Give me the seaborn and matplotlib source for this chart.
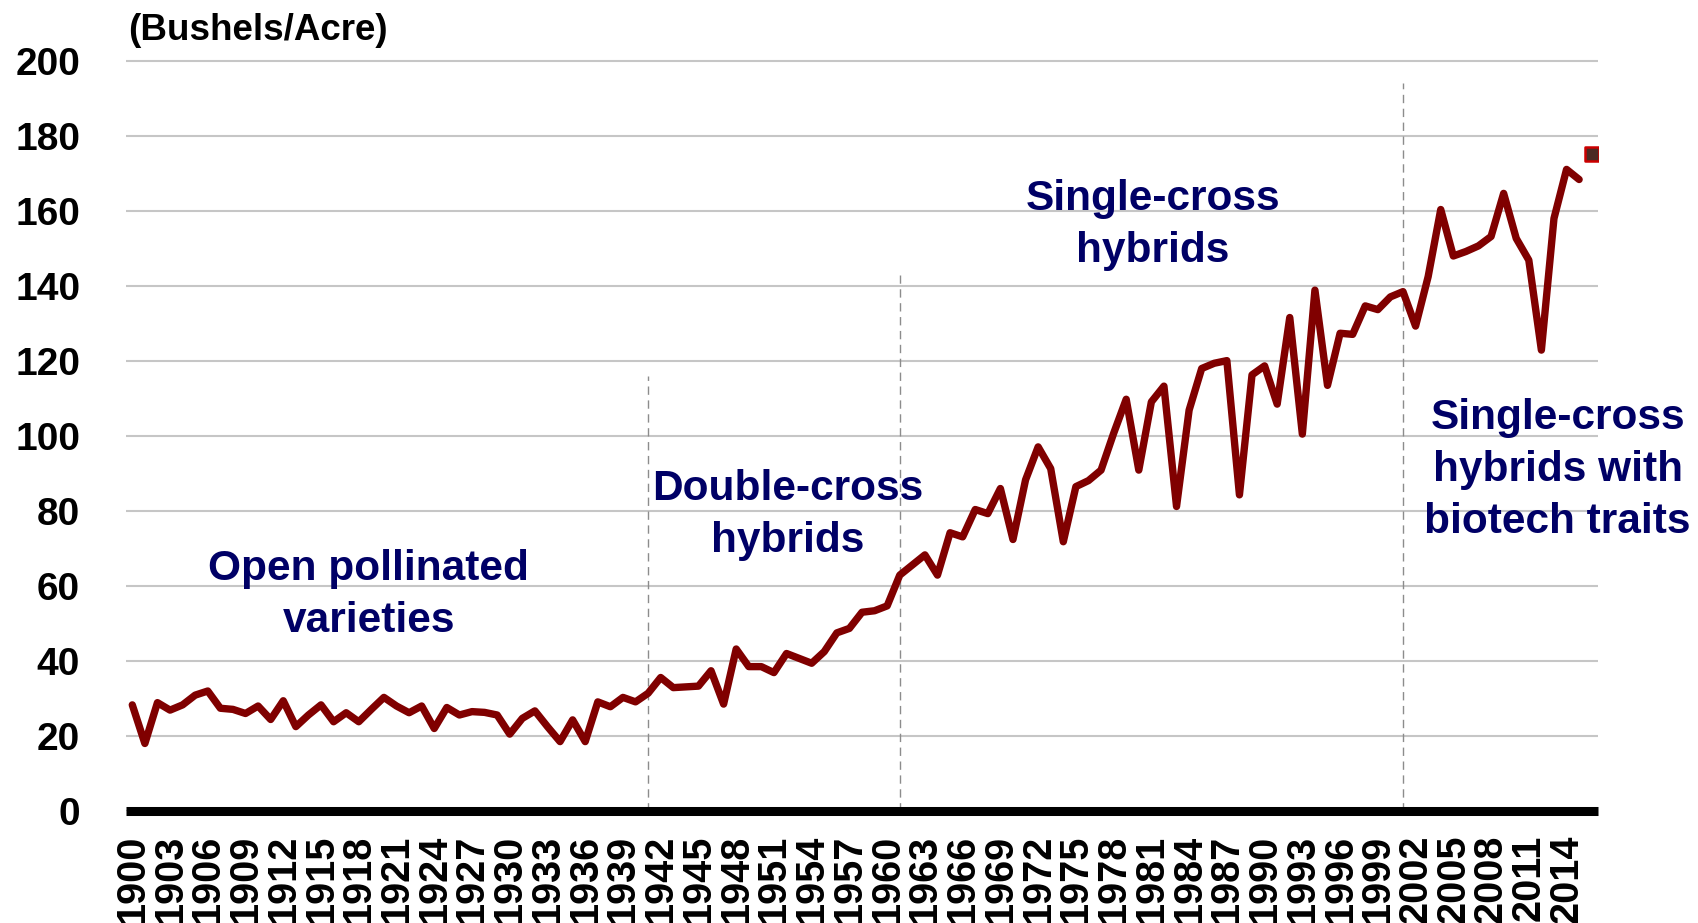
import numpy as np
import pandas as pd
import matplotlib
matplotlib.use("Agg")
from matplotlib import pyplot as plt
import seaborn as sns

# US corn yield, bushels per acre
years = list(range(1900, 2016))
yields = [
    28.3, 18.0, 28.9, 26.9, 28.3, 30.9, 32.0, 27.4, 27.1, 26.0,
    28.0, 24.4, 29.4, 22.5, 25.6, 28.3, 23.8, 26.2, 23.8, 27.1,
    30.3, 28.0, 26.2, 28.0, 22.0, 27.6, 25.6, 26.5, 26.3, 25.6,
    20.5, 24.7, 26.7, 22.5, 18.5, 24.3, 18.5, 29.1, 27.8, 30.3,
    29.1, 31.4, 35.6, 32.9, 33.1, 33.3, 37.4, 28.5, 43.2, 38.5,
    38.5, 36.9, 42.0, 40.7, 39.4, 42.5, 47.5, 48.7, 53.0, 53.4,
    54.7, 62.9, 65.6, 68.3, 62.9, 74.2, 73.1, 80.4, 79.3, 86.0,
    72.4, 88.3, 97.1, 91.3, 71.8, 86.5, 88.1, 90.9, 100.7, 109.8,
    90.9, 109.1, 113.3, 81.2, 106.9, 118.0, 119.4, 120.1, 84.3, 116.3,
    118.7, 108.5, 131.6, 100.5, 138.9, 113.5, 127.4, 127.1, 134.7, 133.7,
    137.1, 138.5, 129.3, 142.5, 160.4, 148.0, 149.2, 150.7, 153.2, 164.7,
    152.7, 146.9, 122.9, 158.0, 171.1, 168.4,
]
forecast_year = [2016]
forecast_yield = [175.1]

era_years = [1941, 1961, 2001]
era_tops = [116, 143, 194]
era_names = [
    "Open pollinated\nvarieties",
    "Double-cross\nhybrids",
    "Single-cross\nhybrids",
    "Single-cross\nhybrids with\nbiotech traits",
]

tick_years = list(range(1900, 2015, 3))
y_ticks = list(range(0, 201, 20))

df = pd.DataFrame({"year": years, "yield": yields})

sns.set_theme(style="white")
plt.rcParams["font.family"] = ["Liberation Sans", "DejaVu Sans"]

W, H = 1699, 923
fig = plt.figure(figsize=(W / 100, H / 100), dpi=100)
top_px = 811 - 201 * 3.75
ax = fig.add_axes([126 / W, 1 - 811 / H, (1598 - 126) / W, (811 - top_px) / H])

ax.yaxis.grid(True, color="#c6c6c6", linewidth=1.5)
ax.set_axisbelow(True)

ax.vlines(era_years, 0, era_tops, colors="#8c8c8c", linewidth=1.0,
          linestyles=(0, (6, 4)), zorder=1)

sns.lineplot(data=df, x="year", y="yield", color="#800000", linewidth=5.3,
             ax=ax, zorder=3)
sns.scatterplot(x=forecast_year, y=forecast_yield, marker="s", s=95,
                color="#4b2a24", edgecolor="#cc0000", linewidth=1.8,
                ax=ax, zorder=4)

ax.set_xlim(1899.5, 2016.5)
ax.set_ylim(0, 201)
ax.set_xticks(tick_years)
ax.set_xticklabels([str(t) for t in tick_years], rotation=90,
                   fontsize=28.5, fontweight="bold")
ax.set_yticks(y_ticks)
ax.set_yticklabels([str(t) for t in y_ticks], fontsize=28, fontweight="bold")
ax.tick_params(axis="x", length=0, pad=17, labelcolor="black")
ax.tick_params(axis="y", length=0, pad=33, labelcolor="black")
ax.set_xlabel("")
ax.set_ylabel("")

for s in ["left", "right", "top"]:
    ax.spines[s].set_visible(False)
ax.spines["bottom"].set_color("black")
ax.spines["bottom"].set_linewidth(6.5)
ax.spines["bottom"].set_capstyle("butt")
ax.spines["bottom"].set_zorder(5)

navy = "#000066"
label_pos = [(1918.8, 57.6), (1952.1, 79.0), (1981.1, 156.3), (2013.3, 90.9)]
for name, (lx, ly) in zip(era_names, label_pos):
    ax.text(lx, ly, name, ha="center", va="center", multialignment="center",
            fontsize=30.5, fontweight="bold", color=navy, linespacing=1.38,
            zorder=6)

fig.text(128 / W, 1 - 31 / H, "(Bushels/Acre)", ha="left", va="center",
         fontsize=26.5, fontweight="bold", color="black")

fig.savefig("out.png", dpi=100)
